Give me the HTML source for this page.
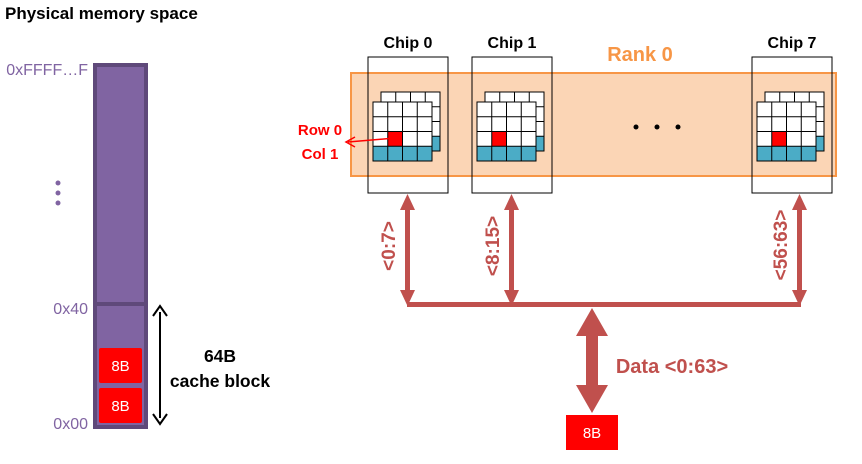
<!DOCTYPE html>
<html><head><style>
body{margin:0;width:862px;height:459px;background:#fff;overflow:hidden;font-family:"Liberation Sans",sans-serif}
</style></head><body>
<svg width="862" height="459" xmlns="http://www.w3.org/2000/svg" font-family="Liberation Sans, sans-serif">
<defs>
<g id="grid">
  <g transform="translate(8,-10)">
    <rect x="0" y="0" width="59" height="59" fill="#fff"/>
    <rect x="0" y="44.25" width="59" height="14.75" fill="#4BACC6"/>
    <path d="M0 0H59V59H0Z M14.75 0V59 M29.5 0V59 M44.25 0V59 M0 14.75H59 M0 29.5H59 M0 44.25H59" fill="none" stroke="#000" stroke-width="1"/>
  </g>
  <rect x="0" y="0" width="59" height="59" fill="#fff"/>
  <rect x="0" y="44.25" width="59" height="14.75" fill="#4BACC6"/>
  <rect x="14.75" y="29.5" width="14.75" height="14.75" fill="#FF0000"/>
  <path d="M0 0H59V59H0Z M14.75 0V59 M29.5 0V59 M44.25 0V59 M0 14.75H59 M0 29.5H59 M0 44.25H59" fill="none" stroke="#000" stroke-width="1"/>
</g>
</defs>
<text x="5" y="19" font-size="17" font-weight="bold">Physical memory space</text>
<rect x="95" y="65" width="51" height="362" fill="#8064A2" stroke="#5F497A" stroke-width="4"/>
<line x1="95" y1="304" x2="146" y2="304" stroke="#5F497A" stroke-width="4"/>
<rect x="99" y="348" width="43" height="35" rx="2" fill="#FF0000"/>
<rect x="99" y="388" width="43" height="35" rx="2" fill="#FF0000"/>
<text x="120.5" y="371" font-size="15" fill="#fff" text-anchor="middle">8B</text>
<text x="120.5" y="411" font-size="15" fill="#fff" text-anchor="middle">8B</text>
<g fill="#8064A2" font-size="16" text-anchor="end">
<text x="88" y="75">0xFFFF…F</text>
<text x="88" y="314">0x40</text>
<text x="88" y="429">0x00</text>
</g>
<circle cx="58" cy="183" r="2.5" fill="#8064A2"/><circle cx="58" cy="193" r="2.5" fill="#8064A2"/><circle cx="58" cy="203" r="2.5" fill="#8064A2"/>
<line x1="160" y1="312" x2="160" y2="418" stroke="#000" stroke-width="2"/>
<path d="M153 316 L160 306 L167 316 M153 414 L160 424 L167 414" fill="none" stroke="#000" stroke-width="2"/>
<text x="220" y="362" font-size="17.5" font-weight="bold" text-anchor="middle">64B</text>
<text x="220" y="387" font-size="17.5" font-weight="bold" text-anchor="middle">cache block</text>

<rect x="351" y="73" width="485" height="103" fill="#FBD5B5" stroke="#F79646" stroke-width="2"/>
<text x="640" y="61" font-size="20" font-weight="bold" fill="#F79646" text-anchor="middle">Rank 0</text>
<rect x="368" y="57" width="80" height="136" fill="none" stroke="#000" stroke-width="1"/>
<rect x="472" y="57" width="80" height="136" fill="none" stroke="#000" stroke-width="1"/>
<rect x="752" y="57" width="80" height="136" fill="none" stroke="#000" stroke-width="1"/>
<g font-size="16" font-weight="bold" text-anchor="middle">
<text x="408" y="48">Chip 0</text><text x="512" y="48">Chip 1</text><text x="792" y="48">Chip 7</text>
</g>
<use href="#grid" x="373" y="102"/>
<use href="#grid" x="477" y="102"/>
<use href="#grid" x="757" y="102"/>
<circle cx="636" cy="127" r="2.5"/><circle cx="657" cy="127" r="2.5"/><circle cx="678" cy="127" r="2.5"/>
<text x="320" y="135" font-size="15" font-weight="bold" fill="#FF0000" text-anchor="middle">Row 0</text>
<text x="320" y="159" font-size="15" font-weight="bold" fill="#FF0000" text-anchor="middle">Col 1</text>
<line x1="395" y1="138" x2="348" y2="142" stroke="#FF0000" stroke-width="1.5"/>
<path d="M355 137 L346 142 L355 147" fill="none" stroke="#FF0000" stroke-width="1.5"/>

<g fill="#C0504D" stroke="none">
<rect x="405" y="208" width="5" height="84"/><path d="M400 210 L407.5 194 L415 210Z M400 290 L407.5 306 L415 290Z"/>
<rect x="509" y="208" width="5" height="84"/><path d="M504 210 L511.5 194 L519 210Z M504 290 L511.5 306 L519 290Z"/>
<rect x="797" y="208" width="5" height="84"/><path d="M792 210 L799.5 194 L807 210Z M792 290 L799.5 306 L807 290Z"/>
<rect x="407" y="302" width="394" height="5"/>
<rect x="586" y="330" width="12" height="62"/>
<path d="M576 336 L592 308 L608 336Z M576 385 L592 413 L608 385Z"/>
</g>
<g fill="#C0504D" font-size="19" font-weight="bold" text-anchor="middle">
<text transform="translate(395,246) rotate(-90)">&lt;0:7&gt;</text>
<text transform="translate(499,246) rotate(-90)">&lt;8:15&gt;</text>
<text transform="translate(787,245) rotate(-90)">&lt;56:63&gt;</text>
<text x="672" y="373" font-size="20">Data &lt;0:63&gt;</text>
</g>
<rect x="566" y="415" width="52" height="35" fill="#FF0000"/>
<text x="592" y="438" font-size="15" fill="#fff" text-anchor="middle">8B</text>
</svg>
</body></html>
